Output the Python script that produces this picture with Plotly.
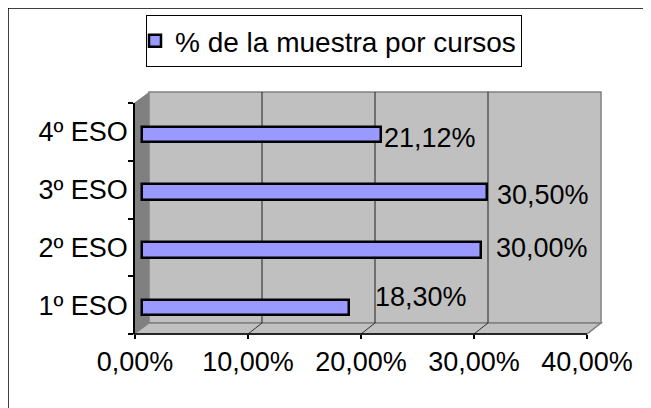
import plotly.graph_objects as go

# ---- data ----
categories = ["1º ESO", "2º ESO", "3º ESO", "4º ESO"]
values = [0.183, 0.300, 0.305, 0.2112]
value_labels = ["18,30%", "30,00%", "30,50%", "21,12%"]
series_name = "% de la muestra por cursos"
x_ticks = [0.0, 0.1, 0.2, 0.3, 0.4]

# ---- label nudges (style) ----
label_xshift = [24, 13, 8, 1]
label_yshift = [8, -1, -5, -6]

# ---- geometry (pixels in the final screenshot) ----
W, H = 651, 408
OFF = 8             # page body margin
X0 = 142            # pixel of value 0 (bar depth)
PX_PER = 452 / 0.4  # pixels per unit
DX, DY = 7, 5.5     # half-depth offsets
XL, XR = 128, 608   # axis domain in px
Y_TOP, Y_BOT = 103, 334
FONT = "Liberation Sans, Arial, sans-serif"
FS = 27
FS_LEG = 28


def px(v):
    return X0 + v * PX_PER


def fx(p):
    return (p - OFF) / W


def fy(p):
    return 1 - (p - OFF) / H


rng_bar = [(XL - X0) / PX_PER, (XR - X0) / PX_PER]
rng_front = [(XL - (X0 - DX)) / PX_PER, (XR - (X0 - DX)) / PX_PER]

fig = go.Figure()
fig.add_trace(go.Bar(
    orientation="h", x=values, y=categories, name=series_name,
    width=0.27, offset=-0.178,
    marker=dict(color="#9999FF", line=dict(color="black", width=2.5)),
))
fig.add_trace(go.Scatter(x=[0], y=[categories[0]], xaxis="x2", yaxis="y",
                         mode="markers", marker=dict(opacity=0), showlegend=False,
                         hoverinfo="skip"))

front_x0 = px(0) - DX
front_x1 = px(0.4) - DX
back_x0 = px(0) + DX
back_x1 = px(0.4) + DX
back_top = Y_TOP - 2 * DY
back_bot = Y_BOT - 2 * DY


def path(pts):
    s = "M " + " L ".join(f"{fx(a)},{fy(b)}" for a, b in pts) + " Z"
    return s


shapes = []
# back wall
shapes.append(dict(type="rect", xref="paper", yref="paper", layer="below",
                   x0=fx(back_x0), x1=fx(back_x1), y0=fy(back_bot), y1=fy(back_top),
                   fillcolor="#C0C0C0", line=dict(color="#808080", width=1.5)))
# left wall
shapes.append(dict(type="path", xref="paper", yref="paper", layer="below",
                   path=path([(134, Y_BOT), (134, Y_TOP), (back_x0, back_top), (back_x0, back_bot)]),
                   fillcolor="#808080", line=dict(width=0)))
# floor
shapes.append(dict(type="path", xref="paper", yref="paper", layer="below",
                   path=path([(134, Y_BOT), (back_x0, back_bot), (back_x1, back_bot), (front_x1, Y_BOT)]),
                   fillcolor="#C0C0C0", line=dict(color="#808080", width=1.5)))
# back gridlines
for v in x_ticks[1:-1]:
    shapes.append(dict(type="line", xref="paper", yref="paper", layer="below",
                       x0=fx(px(v) + DX), x1=fx(px(v) + DX), y0=fy(back_bot), y1=fy(back_top),
                       line=dict(color="#202020", width=1)))
# floor diagonals
for v in x_ticks[1:]:
    shapes.append(dict(type="line", xref="paper", yref="paper", layer="below",
                       x0=fx(px(v) - DX), x1=fx(px(v) + DX), y0=fy(Y_BOT), y1=fy(back_bot),
                       line=dict(color="#303030" if v < 0.4 else "#808080", width=1)))
# x axis line (front)
shapes.append(dict(type="line", xref="paper", yref="paper", layer="above",
                   x0=fx(134), x1=fx(front_x1), y0=fy(Y_BOT), y1=fy(Y_BOT),
                   line=dict(color="black", width=1.5)))
# outer border
shapes.append(dict(type="line", xref="paper", yref="paper", layer="below",
                   x0=fx(6.5), x1=fx(6.5), y0=fy(8), y1=fy(420),
                   line=dict(color="#A0A0A0", width=1)))
shapes.append(dict(type="rect", xref="paper", yref="paper", layer="below",
                   x0=fx(8), x1=fx(700), y0=fy(8), y1=fy(460),
                   line=dict(color="black", width=1.5)))

annotations = []
for c, v, t, xs, ys in zip(categories, values, value_labels, label_xshift, label_yshift):
    annotations.append(dict(x=v, y=c, xref="x", yref="y", text=t, showarrow=False,
                            xanchor="left", yanchor="middle", xshift=xs, yshift=ys,
                            font=dict(family=FONT, size=FS, color="black")))

fig.update_layout(
    width=W, height=H, autosize=False,
    margin=dict(l=0, r=0, t=0, b=0, pad=0, autoexpand=False),
    paper_bgcolor="white", plot_bgcolor="rgba(0,0,0,0)",
    separators=",.",
    font=dict(family=FONT, size=FS, color="black"),
    bargap=0,
    shapes=shapes,
    annotations=annotations,
    xaxis=dict(domain=[fx(XL), fx(XR)], range=rng_bar, anchor="y", automargin=False,
               showgrid=False, zeroline=False, showticklabels=False, showline=False),
    xaxis2=dict(domain=[fx(XL), fx(XR)], range=rng_front, overlaying="x", anchor="y", side="bottom",
                automargin=False,
                showgrid=False, zeroline=False, showline=False,
                tickvals=x_ticks, tickformat=".2%", ticks="outside", ticklen=4,
                tickcolor="black", tickwidth=1.5,
                tickfont=dict(family=FONT, size=FS, color="black")),
    yaxis=dict(domain=[fy(Y_BOT), fy(Y_TOP)], range=[-0.5, 3.5], anchor="free", position=fx(134),
               automargin=False,
               type="category", categoryorder="array", categoryarray=categories,
               tickson="boundaries", ticks="outside", ticklen=5, tickcolor="black", tickwidth=1.5,
               showline=True, linecolor="black", linewidth=1.5,
               showgrid=False, zeroline=False,
               tickfont=dict(family=FONT, size=FS, color="black")),
    showlegend=True,
    legend=dict(x=fx(146), y=fy(15), xanchor="left", yanchor="top", indentation=-12,
                bordercolor="black", borderwidth=1, bgcolor="white",
                font=dict(family=FONT, size=FS_LEG, color="black")),
)

fig.write_html("out.html")
